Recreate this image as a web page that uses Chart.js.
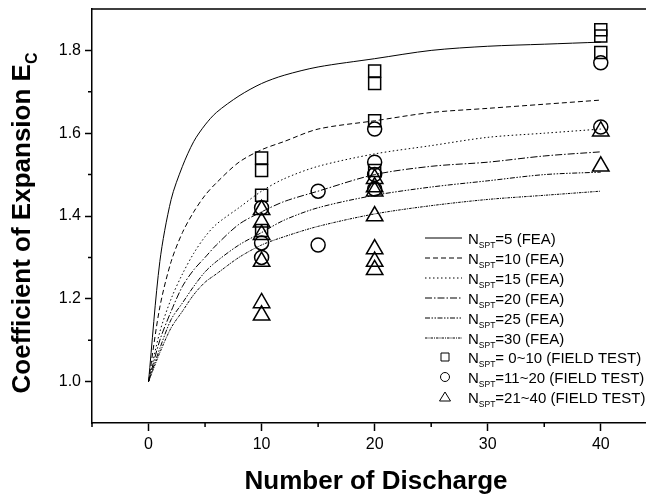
<!DOCTYPE html>
<html>
<head>
<meta charset="utf-8">
<script src="https://cdn.jsdelivr.net/npm/chart.js@4/dist/chart.umd.min.js"></script>
<style>
  html, body { margin: 0; padding: 0; background: #fff; }
</style>
</head>
<body>
<canvas id="grafico" width="646" height="495"></canvas>
<script>
// curvas FEA, nos pontos de descarga abaixo
const descarga = [0, 1, 2, 3, 4, 5, 6, 8, 10, 12, 15, 20, 25, 30, 35, 40];
const fea5  = [1.0, 1.29, 1.44, 1.52, 1.58, 1.62, 1.65, 1.69, 1.72, 1.74, 1.76, 1.78, 1.80, 1.81, 1.815, 1.82];
const fea10 = [1.0, 1.18, 1.29, 1.36, 1.41, 1.45, 1.48, 1.53, 1.56, 1.58, 1.61, 1.63, 1.65, 1.66, 1.67, 1.68];
const fea15 = [1.0, 1.12, 1.20, 1.26, 1.31, 1.35, 1.38, 1.42, 1.46, 1.49, 1.52, 1.55, 1.57, 1.59, 1.60, 1.61];
const fea20 = [1.0, 1.10, 1.17, 1.23, 1.27, 1.30, 1.33, 1.38, 1.41, 1.435, 1.46, 1.50, 1.52, 1.53, 1.545, 1.555];
const fea25 = [1.0, 1.08, 1.15, 1.19, 1.23, 1.265, 1.29, 1.33, 1.36, 1.39, 1.42, 1.45, 1.47, 1.485, 1.50, 1.506];
const fea30 = [1.0, 1.07, 1.13, 1.17, 1.21, 1.24, 1.26, 1.30, 1.33, 1.35, 1.375, 1.405, 1.425, 1.44, 1.45, 1.46];
const nomesFea = ['5', '10', '15', '20', '25', '30'];

// ensaios de campo
const quadradoX = [10, 10, 10, 10, 20, 20, 20, 20, 40, 40, 40];
const quadradoY = [1.54, 1.51, 1.45, 1.365, 1.75, 1.72, 1.63, 1.51, 1.85, 1.835, 1.795];
const circuloX = [10, 10, 10, 15, 15, 20, 20, 20, 20, 40, 40];
const circuloY = [1.42, 1.335, 1.30, 1.46, 1.33, 1.61, 1.53, 1.50, 1.465, 1.77, 1.615];
const trianguloX = [10, 10, 10, 10, 10, 10, 20, 20, 20, 20, 20, 20, 20, 40, 40];
const trianguloY = [1.415, 1.385, 1.355, 1.29, 1.19, 1.16, 1.49, 1.47, 1.46, 1.40, 1.32, 1.29, 1.27, 1.605, 1.52];
const nomesCampo = [' 0~10', '11~20', '21~40'];

const xTicks = [0, 10, 20, 30, 40];
const xMenores = [-5, 5, 15, 25, 35];
const yTicks = [1.0, 1.2, 1.4, 1.6, 1.8];
const yMenores = [1.1, 1.3, 1.5, 1.7];

const fonte = '"Liberation Sans", Arial, sans-serif';
const tracos = [[], [5, 3], [1.5, 2.5], [7, 2, 1.5, 2], [5, 1.5, 1.5, 1.5, 1.5, 1.5], [2.5, 1, 1, 1]];

const pontos = (xs, ys) => xs.map((x, i) => ({ x: x, y: ys[i] }));

const curvas = [fea5, fea10, fea15, fea20, fea25, fea30].map((ys, i) => ({
    label: 'N' + nomesFea[i],
    data: pontos(descarga, ys),
    showLine: true,
    borderColor: '#000',
    borderWidth: 1,
    borderDash: tracos[i],
    pointRadius: 0,
    tension: 0.3,
    fill: false
}));

const campo = [
    { xs: quadradoX, ys: quadradoY, estilo: 'rect', raio: 8.5 },
    { xs: circuloX, ys: circuloY, estilo: 'circle', raio: 7 },
    { xs: trianguloX, ys: trianguloY, estilo: 'triangle', raio: 9.5 }
].map((s, i) => ({
    label: 'C' + nomesCampo[i],
    data: pontos(s.xs, s.ys),
    showLine: false,
    pointStyle: s.estilo,
    pointRadius: s.raio,
    pointBorderColor: '#000',
    pointBackgroundColor: 'rgba(0,0,0,0)',
    pointBorderWidth: 1.5
}));

function textoSub(ctx, x, y, a, sub, b, tam, tamSub, negrito, alinhar) {
    const f1 = (negrito ? 'bold ' : '') + tam + 'px ' + fonte;
    const f2 = (negrito ? 'bold ' : '') + tamSub + 'px ' + fonte;
    ctx.font = f1; const w1 = ctx.measureText(a).width; const w3 = ctx.measureText(b).width;
    ctx.font = f2; const w2 = ctx.measureText(sub).width;
    let x0 = x;
    if (alinhar === 'center') x0 = x - (w1 + w2 + w3) / 2;
    ctx.textAlign = 'left';
    ctx.textBaseline = 'alphabetic';
    ctx.font = f1; ctx.fillText(a, x0, y);
    ctx.font = f2; ctx.fillText(sub, x0 + w1, y + tam * 0.28);
    ctx.font = f1; ctx.fillText(b, x0 + w1 + w2, y);
}

const extras = {
    id: 'extras',
    afterDraw(chart) {
        const ctx = chart.ctx;
        const area = chart.chartArea;
        const sx = chart.scales.x, sy = chart.scales.y;
        ctx.save();
        ctx.strokeStyle = '#000';
        ctx.fillStyle = '#000';
        ctx.lineWidth = 1.5;
        ctx.beginPath();
        ctx.moveTo(area.left, area.top);
        ctx.lineTo(area.right, area.top);
        yMenores.forEach(v => {
            const p = sy.getPixelForValue(v);
            ctx.moveTo(area.left - 4, p); ctx.lineTo(area.left, p);
        });
        xMenores.forEach(v => {
            const p = sx.getPixelForValue(v);
            ctx.moveTo(p, area.bottom); ctx.lineTo(p, area.bottom + 4);
        });
        ctx.stroke();

        // legenda
        const linhas = [238, 258, 278, 298, 318, 338, 357, 377, 397];
        ctx.lineWidth = 1;
        nomesFea.forEach((n, i) => {
            const y = linhas[i];
            ctx.setLineDash(tracos[i]);
            ctx.beginPath(); ctx.moveTo(425, y); ctx.lineTo(462, y); ctx.stroke();
            ctx.setLineDash([]);
            textoSub(ctx, 468, y + 5.5, 'N', 'SPT', '=' + n + ' (FEA)', 15, 8.5, false);
        });
        nomesCampo.forEach((n, i) => {
            const y = linhas[6 + i];
            ctx.beginPath();
            if (i === 0) ctx.rect(441, y - 4, 8, 8);
            if (i === 1) ctx.arc(445, y, 4.5, 0, Math.PI * 2);
            if (i === 2) { ctx.moveTo(445, y - 5); ctx.lineTo(450.5, y + 4); ctx.lineTo(439.5, y + 4); ctx.closePath(); }
            ctx.stroke();
            textoSub(ctx, 468, y + 5.5, 'N', 'SPT', '=' + n + ' (FIELD TEST)', 15, 8.5, false);
        });

        // titulos dos eixos
        ctx.font = 'bold 26px ' + fonte;
        ctx.textAlign = 'center';
        ctx.fillText('Number of Discharge', 376, 489);
        ctx.translate(30, 223);
        ctx.rotate(-Math.PI / 2);
        textoSub(ctx, 0, 0, 'Coefficient of Expansion E', 'C', '', 26, 16, true, 'center');
        ctx.restore();
    }
};

new Chart(document.getElementById('grafico').getContext('2d'), {
    type: 'scatter',
    data: { datasets: curvas.concat(campo) },
    plugins: [extras],
    options: {
        responsive: false,
        animation: false,
        devicePixelRatio: 1,
        layout: { autoPadding: false, padding: { top: 9, right: 0, left: 0, bottom: 0 } },
        plugins: {
            legend: { display: false },
            tooltip: { enabled: false }
        },
        scales: {
            x: {
                type: 'linear',
                min: -5,
                max: 44,
                afterBuildTicks: s => { s.ticks = xTicks.map(v => ({ value: v })); },
                afterFit: s => { s.height = 72; s.paddingLeft = 0; s.paddingRight = 0; },
                grid: { drawOnChartArea: false, drawTicks: true, tickLength: 8, tickWidth: 1.5, color: '#000' },
                border: { color: '#000', width: 1.5 },
                ticks: { color: '#000', padding: 4, maxRotation: 0, font: { family: fonte, size: 16 } }
            },
            y: {
                type: 'linear',
                min: 0.9,
                max: 1.9,
                afterBuildTicks: s => { s.ticks = yTicks.map(v => ({ value: v })); },
                afterFit: s => { s.width = 92; s.paddingTop = 0; s.paddingBottom = 0; },
                grid: { drawOnChartArea: false, drawTicks: true, tickLength: 7, tickWidth: 1.5, color: '#000' },
                border: { color: '#000', width: 1.5 },
                ticks: { color: '#000', padding: 4, font: { family: fonte, size: 16 }, callback: v => v.toFixed(1) }
            }
        }
    }
});
</script>
</body>
</html>
